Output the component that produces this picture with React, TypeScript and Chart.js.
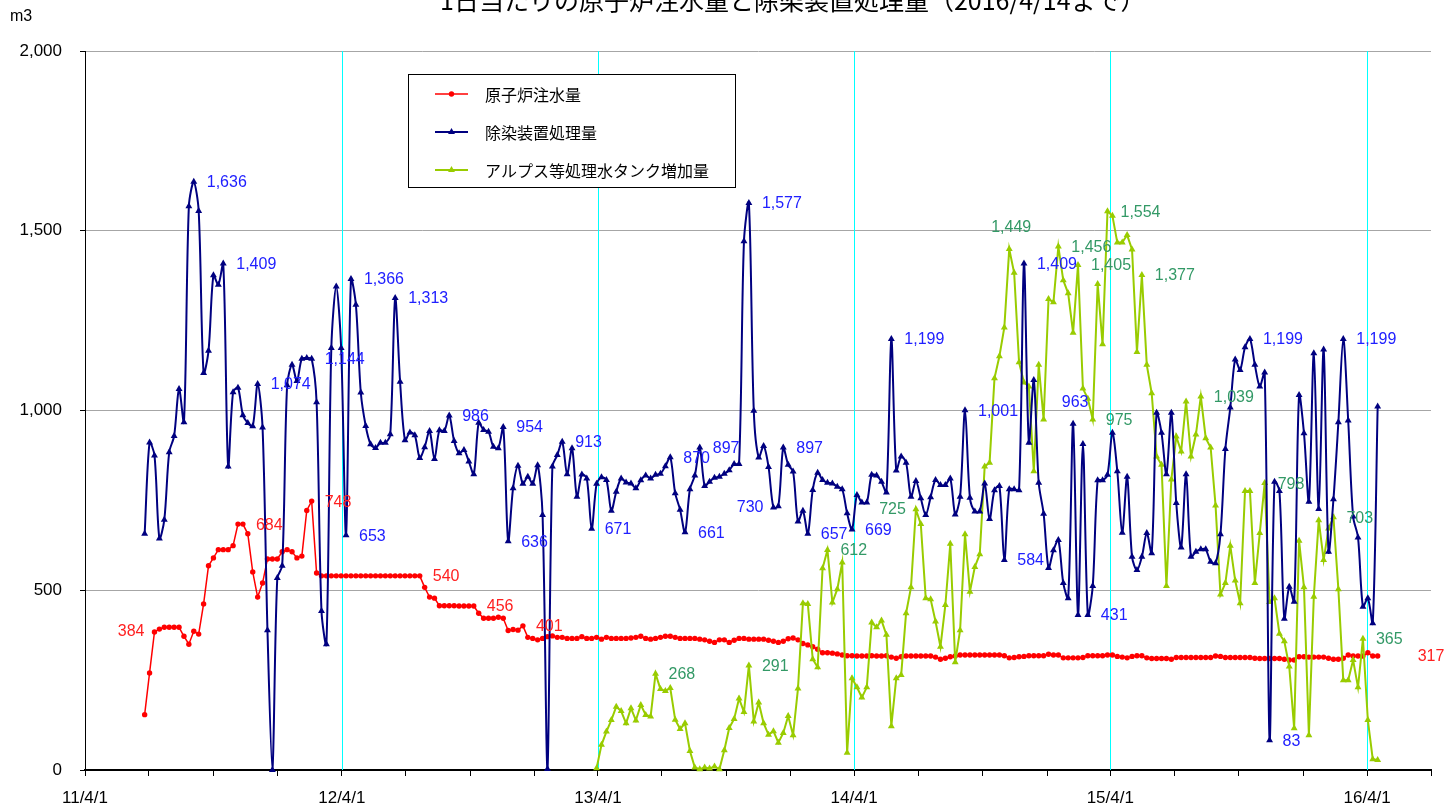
import React, { useEffect, useRef } from 'react';
import { Chart, registerables } from 'chart.js';

Chart.register(...registerables);

// ---------------- text ----------------
const TITLE = '1日当たりの原子炉注水量と除染装置処理量（2016/4/14まで）';
const UNIT = 'm3';
const seriesNames = ['原子炉注水量', '除染装置処理量', 'アルプス等処理水タンク増加量'];
const yearTickLabels = ['11/4/1', '12/4/1', '13/4/1', '14/4/1', '15/4/1', '16/4/1'];
const yTickValues = [0, 500, 1000, 1500, 2000];

// ---------------- dates ----------------
const axisStart = '2011-04-01';
const axisEnd = '2016-07-01';
const firstWeek = '2011-06-25'; // first weekly point of 原子炉注水量 / 除染装置処理量
const alpsFirstWeek = '2013-03-30'; // first weekly point of the ALPS series

// ---------------- data (weekly, m3/day) ----------------
const reactorInjection = [
  154, 270, 384, 392, 397, 397, 397, 397, 372, 350,
  386, 378, 462, 568, 590, 613, 613, 613, 624, 684,
  684, 657, 551, 481, 520, 587, 587, 587, 607, 613,
  607, 590, 595, 722, 748, 548, 540, 540, 540, 540,
  540, 540, 540, 540, 540, 540, 540, 540, 540, 540,
  540, 540, 540, 540, 540, 540, 540, 508, 481, 478,
  457, 457, 457, 457, 456, 456, 456, 456, 436, 422,
  422, 422, 425, 422, 388, 391, 389, 401, 369, 366,
  362, 366, 371, 373, 369, 369, 366, 366, 366, 371,
  366, 366, 369, 364, 369, 366, 366, 366, 366, 367,
  369, 372, 366, 364, 366, 369, 372, 372, 369, 366,
  366, 366, 366, 364, 362, 358, 355, 362, 362, 355,
  361, 366, 366, 364, 364, 364, 364, 361, 358, 355,
  358, 365, 367, 362, 352, 348, 343, 336, 326, 326,
  325, 323, 320, 318, 318, 317, 317, 317, 318, 317,
  317, 318, 314, 311, 315, 317, 317, 317, 317, 317,
  317, 314, 308, 311, 315, 317, 320, 320, 320, 320,
  320, 320, 320, 320, 320, 318, 312, 313, 315, 316,
  318, 318, 318, 318, 322, 320, 320, 312, 312, 312,
  312, 313, 318, 318, 318, 318, 320, 320, 316, 314,
  312, 316, 318, 318, 312, 310, 310, 310, 310, 308,
  313, 313, 313, 313, 313, 313, 313, 313, 317, 316,
  313, 313, 313, 313, 313, 313, 311, 310, 310, 310,
  310, 310, 308, 306, 306, 315, 315, 314, 314, 314,
  314, 311, 308, 308, 311, 320, 317, 317, 317, 326,
  317, 317,
];

const decontamination = [
  657, 911, 875, 644, 696, 884, 929, 1060, 967, 1568,
  1636, 1555, 1104, 1166, 1376, 1350, 1409, 844, 1051, 1063,
  987, 965, 956, 1074, 953, 389, 0, 534, 568, 1070,
  1127, 1082, 1144, 1146, 1144, 1023, 442, 350, 1174, 1345,
  1174, 653, 1366, 1294, 1050, 957, 906, 896, 910, 910,
  934, 1313, 1080, 917, 939, 931, 868, 898, 943, 865,
  945, 943, 986, 915, 881, 890, 858, 823, 966, 946,
  941, 899, 895, 954, 636, 784, 846, 796, 816, 796,
  848, 709, 3, 844, 876, 913, 823, 895, 760, 822,
  811, 671, 796, 814, 807, 721, 774, 811, 800, 797,
  784, 806, 819, 811, 821, 824, 845, 870, 770, 724,
  661, 781, 819, 897, 790, 802, 813, 816, 824, 834,
  851, 851, 1471, 1577, 999, 869, 901, 843, 730, 734,
  897, 849, 830, 691, 721, 657, 779, 827, 807, 799,
  797, 788, 781, 714, 669, 765, 744, 744, 821, 819,
  802, 772, 1199, 833, 872, 855, 760, 804, 756, 709,
  759, 807, 793, 793, 811, 711, 760, 1001, 757, 719,
  719, 797, 698, 778, 790, 584, 781, 781, 778, 1409,
  910, 1085, 799, 713, 562, 611, 640, 520, 478, 963,
  431, 907, 431, 512, 806, 806, 821, 938, 831, 660,
  816, 593, 556, 593, 659, 603, 994, 938, 823, 994,
  743, 619, 823, 593, 607, 614, 614, 579, 575, 656,
  893, 1008, 1142, 1113, 1176, 1199, 1127, 1067, 1106, 83,
  802, 776, 421, 510, 468, 1043, 937, 746, 1159, 726,
  1170, 607, 753, 967, 1199, 972, 705, 647, 454, 478,
  408, 1011,
];

const alpsTankIncrease = [
  5, 70, 107, 139, 176, 164, 130, 172, 138, 181,
  153, 149, 268, 225, 220, 228, 140, 114, 130, 53,
  7, 2, 7, 4, 10, 2, 55, 117, 142, 199,
  161, 291, 135, 188, 130, 98, 108, 76, 103, 150,
  97, 227, 464, 462, 308, 286, 561, 612, 466, 503,
  577, 48, 255, 230, 202, 230, 410, 397, 416, 376,
  122, 255, 264, 436, 508, 725, 684, 478, 475, 413,
  343, 459, 629, 300, 389, 656, 496, 565, 600, 844,
  855, 1090, 1151, 1231, 1449, 1383, 1134, 1078, 1067, 831,
  1127, 975, 1310, 1301, 1456, 1362, 1326, 1216, 1405, 1061,
  1033, 975, 1352, 1184, 1554, 1542, 1467, 1467, 1488, 1448,
  1163, 1377, 1127, 1048, 872, 849, 512, 808, 928, 886,
  1025, 872, 933, 1039, 923, 897, 736, 488, 520, 624,
  527, 464, 776, 776, 520, 659, 798, 467, 478, 379,
  358, 288, 116, 638, 508, 97, 482, 695, 584, 672,
  703, 503, 250, 250, 306, 230, 365, 139, 30, 28,
];

// which points carry a value label, and on which side
const reactorLabels: [number, string][] = [
  [2, 'left'], [20, 'right'], [34, 'right'], [56, 'right'], [67, 'right'], [77, 'right'], [251, 'far'],
];
const decontLabels: [number, string][] = [
  [10, 'right'], [16, 'right'], [23, 'right'], [34, 'right'], [41, 'right'], [42, 'right'],
  [51, 'right'], [62, 'right'], [73, 'right'], [74, 'right'], [85, 'right'], [91, 'right'],
  [107, 'right'], [110, 'right'], [113, 'right'], [123, 'right'], [128, 'left'], [130, 'right'],
  [135, 'right'], [144, 'right'], [152, 'right'], [167, 'right'], [175, 'right'], [179, 'right'],
  [189, 'above'], [192, 'right'], [225, 'right'], [229, 'right'], [244, 'right'],
];
const alpsLabels: [number, string][] = [
  [12, 'right'], [31, 'right'], [47, 'right'], [65, 'left'], [84, 'above'], [94, 'right'],
  [98, 'right'], [101, 'right'], [104, 'right'], [111, 'right'], [123, 'right'], [136, 'right'],
  [150, 'right'], [156, 'right'],
];

// ---------------- styling ----------------
const LAT = '"Liberation Sans", Arial, sans-serif';
const JP = '"Noto Sans CJK JP", "Noto Sans", sans-serif';
const RED = '#ff0000';
const NAVY = '#000080';
const YG = '#99cc00';
const CYAN = '#00ffff';
const LABEL_COLORS = ['#ff2020', '#2020ff', '#339966'];

const DAY = 86400000;
const dayOf = (s: string) => {
  const [y, m, d] = s.split('-').map(Number);
  const [y0, m0, d0] = axisStart.split('-').map(Number);
  return Math.round((Date.UTC(y, m - 1, d) - Date.UTC(y0, m0 - 1, d0)) / DAY);
};

const weekly = (values: number[], start: string) => {
  const s = dayOf(start);
  return values.map((v, i) => ({ x: s + 7 * i, y: v }));
};

// quarter ticks on the date axis
const quarterTicks: { value: number; label: string }[] = [];
for (let y = 2011; y <= 2016; y++) {
  for (const m of [1, 4, 7, 10]) {
    const s = `${y}-${String(m).padStart(2, '0')}-01`;
    const d = dayOf(s);
    if (d < 0 || d > dayOf(axisEnd)) continue;
    quarterTicks.push({ value: d, label: m === 4 ? yearTickLabels[y - 2011] : '' });
  }
}

const yearLinesPlugin = {
  id: 'yearLines',
  beforeDatasetsDraw(chart: any) {
    const { ctx, chartArea, scales } = chart;
    ctx.save();
    ctx.strokeStyle = CYAN;
    ctx.lineWidth = 1;
    quarterTicks.forEach((t) => {
      if (t.label === '' || t.value <= 0) return;
      const x = Math.round(scales.x.getPixelForValue(t.value)) + 0.5;
      ctx.beginPath();
      ctx.moveTo(x, chartArea.top);
      ctx.lineTo(x, chartArea.bottom);
      ctx.stroke();
    });
    ctx.restore();
  },
};

function drawMarker(ctx: CanvasRenderingContext2D, style: string, x: number, y: number, r: number) {
  ctx.beginPath();
  if (style === 'triangle') {
    const h = r * 1.5;
    const w = r * Math.sqrt(3);
    ctx.moveTo(x, y - r);
    ctx.lineTo(x + w / 2, y - r + h);
    ctx.lineTo(x - w / 2, y - r + h);
    ctx.closePath();
  } else {
    ctx.arc(x, y, r, 0, Math.PI * 2);
  }
  ctx.fill();
}

const extrasPlugin = {
  id: 'extras',
  afterDraw(chart: any) {
    const ctx: CanvasRenderingContext2D = chart.ctx;
    ctx.save();

    // title (partly cut off at the top edge, as in the reference)
    ctx.fillStyle = '#000';
    ctx.font = `25px ${JP}`;
    ctx.textAlign = 'left';
    ctx.textBaseline = 'alphabetic';
    ctx.fillText(TITLE, 440, 10);

    // unit
    ctx.font = `16px ${LAT}`;
    ctx.textBaseline = 'middle';
    ctx.fillText(UNIT, 10, 17);

    // legend box
    const lx = 408, ly = 74, lw = 327, lh = 113;
    ctx.fillStyle = '#fff';
    ctx.fillRect(lx, ly, lw, lh);
    ctx.strokeStyle = '#000';
    ctx.lineWidth = 1;
    ctx.strokeRect(lx + 0.5, ly + 0.5, lw, lh);
    chart.data.datasets.forEach((ds: any, k: number) => {
      const yy = 94 + k * 38;
      ctx.strokeStyle = ds.borderColor;
      ctx.lineWidth = ds.borderWidth;
      ctx.beginPath();
      ctx.moveTo(435, yy);
      ctx.lineTo(468, yy);
      ctx.stroke();
      ctx.fillStyle = ds.borderColor;
      drawMarker(ctx, ds.pointStyle, 451.5, yy, ds.pointRadius);
      ctx.fillStyle = '#000';
      ctx.font = `16px ${JP}`;
      ctx.textAlign = 'left';
      ctx.textBaseline = 'middle';
      ctx.fillText(ds.label, 485, yy + 1);
    });

    // value labels
    ctx.font = `16px ${LAT}`;
    const specs = [reactorLabels, decontLabels, alpsLabels];
    specs.forEach((list, dsIndex) => {
      const meta = chart.getDatasetMeta(dsIndex);
      const data = chart.data.datasets[dsIndex].data;
      ctx.fillStyle = LABEL_COLORS[dsIndex];
      list.forEach(([idx, side]) => {
        const el = meta.data[idx];
        const pt = data[idx];
        if (!el || !pt) return;
        const text = Number(pt.y).toLocaleString('en-US');
        ctx.textBaseline = 'middle';
        if (side === 'left') {
          ctx.textAlign = 'right';
          ctx.fillText(text, el.x - 10, el.y);
        } else if (side === 'above') {
          ctx.textAlign = 'center';
          ctx.fillText(text, el.x + 2, el.y - 21);
        } else if (side === 'far') {
          ctx.textAlign = 'left';
          ctx.fillText(text, el.x + 40, el.y + 1);
        } else {
          ctx.textAlign = 'left';
          ctx.fillText(text, el.x + 13, el.y + 1);
        }
      });
    });
    ctx.restore();
  },
};

export default function App() {
  const ref = useRef<HTMLCanvasElement | null>(null);

  useEffect(() => {
    if (!ref.current) return;
    const chart = new Chart(ref.current, {
      type: 'line',
      data: {
        datasets: [
          {
            label: seriesNames[0],
            data: weekly(reactorInjection, firstWeek),
            borderColor: RED,
            backgroundColor: RED,
            borderWidth: 1.5,
            pointStyle: 'circle',
            pointRadius: 2.7,
            pointBorderWidth: 0,
            pointBackgroundColor: RED,
            tension: 0,
            clip: false,
            order: 3,
          },
          {
            label: seriesNames[1],
            data: weekly(decontamination, firstWeek),
            borderColor: NAVY,
            backgroundColor: NAVY,
            borderWidth: 2,
            pointStyle: 'triangle',
            pointRadius: 4,
            pointBorderWidth: 0,
            pointBackgroundColor: NAVY,
            tension: 0.3,
            clip: false,
            order: 1,
          },
          {
            label: seriesNames[2],
            data: weekly(alpsTankIncrease, alpsFirstWeek),
            borderColor: YG,
            backgroundColor: YG,
            borderWidth: 2,
            pointStyle: 'triangle',
            pointRadius: 4,
            pointBorderWidth: 0,
            pointBackgroundColor: YG,
            tension: 0,
            clip: false,
            order: 2,
          },
        ] as any,
      },
      options: {
        animation: false,
        responsive: false,
        maintainAspectRatio: false,
        layout: { padding: { top: 51, right: 13, left: 0, bottom: 0 } },
        plugins: {
          legend: { display: false },
          tooltip: { enabled: false },
          title: { display: false },
        },
        scales: {
          x: {
            type: 'linear',
            min: 0,
            max: dayOf(axisEnd),
            afterBuildTicks: (scale: any) => {
              scale.ticks = quarterTicks.map((t) => ({ value: t.value }));
            },
            afterFit: (scale: any) => {
              scale.height = 40;
            },
            ticks: {
              autoSkip: false,
              maxRotation: 0,
              minRotation: 0,
              padding: 12,
              color: '#000',
              font: { family: LAT, size: 17 },
              callback: (v: any) => {
                const t = quarterTicks.find((q) => q.value === v);
                return t ? t.label : '';
              },
            },
            grid: {
              drawOnChartArea: false,
              drawTicks: true,
              color: '#000',
              tickColor: '#000',
              tickLength: 6,
              lineWidth: 1,
            },
            border: { color: '#000', width: 2 },
          },
          y: {
            type: 'linear',
            min: 0,
            max: 2000,
            afterBuildTicks: (scale: any) => {
              scale.ticks = yTickValues.map((v) => ({ value: v }));
            },
            afterFit: (scale: any) => {
              scale.width = 85;
            },
            ticks: {
              padding: 18,
              color: '#000',
              font: { family: LAT, size: 17 },
              callback: (v: any) => Number(v).toLocaleString('en-US'),
            },
            grid: {
              color: (c: any) => (c.tick && c.tick.value === 0 ? 'rgba(0,0,0,0)' : '#a6a6a6'),
              tickColor: '#000',
              tickLength: 5,
              lineWidth: 1,
            },
            border: { color: '#000', width: 1 },
          },
        },
      } as any,
      plugins: [yearLinesPlugin, extrasPlugin],
    });
    return () => chart.destroy();
  }, []);

  return (
    <div style={{ position: 'fixed', left: 0, top: 0, width: 1444, height: 810, background: '#fff' }}>
      <canvas ref={ref} width={1444} height={810} style={{ display: 'block', width: 1444, height: 810 }} />
    </div>
  );
}
